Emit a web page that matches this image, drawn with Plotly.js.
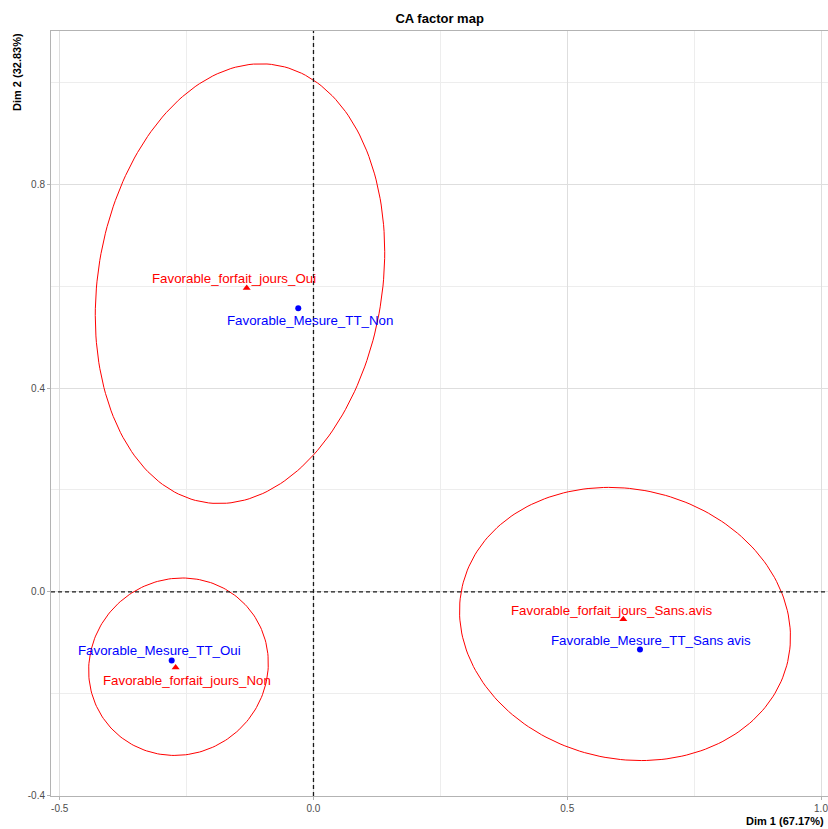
<!DOCTYPE html>
<html>
<head>
<meta charset="utf-8">
<script src="https://cdn.plot.ly/plotly-3.0.1.min.js"></script>
<style>html,body{margin:0;padding:0;background:#fff;}#chart{width:828px;height:829px;}</style>
</head>
<body>
<div id="chart"></div>
<script>
// Row points (blue) – Favorable_Mesure_TT
var rowNames = ["Favorable_Mesure_TT_Non", "Favorable_Mesure_TT_Oui", "Favorable_Mesure_TT_Sans avis"];
var rowDim1 = [-0.0300, -0.2794, 0.6433];
var rowDim2 = [0.5565, -0.1349, -0.1133];
var rowLabelX = [-0.0069, -0.3044, 0.6654];
var rowLabelY = [0.532, -0.116, -0.0951];

// Column points (red) – Favorable_forfait_jours
var colNames = ["Favorable_forfait_jours_Oui", "Favorable_forfait_jours_Non", "Favorable_forfait_jours_Sans.avis"];
var colDim1 = [-0.1316, -0.2716, 0.6105];
var colDim2 = [0.5965, -0.1486, -0.0539];
var colLabelX = [-0.1567, -0.2499, 0.5868];
var colLabelY = [0.6147, -0.1735, -0.0363];

// Confidence ellipses around column points (centre, semi-axes, rotation in degrees)
var ellCx = [-0.1448, -0.266, 0.6138];
var ellCy = [0.605, -0.147, -0.0631];
var ellRx = [0.280, 0.1795, 0.329];
var ellRy = [0.435, 0.1716, 0.2645];
var ellAngle = [-9.35, 34.4, -13.0];

var xTickVals = [-0.5, 0, 0.5, 1.0];
var xTickText = ["-0.5", "0.0", "0.5", "1.0"];
var yTickVals = [-0.4, 0, 0.4, 0.8];
var yTickText = ["-0.4", "0.0", "0.4", "0.8"];

var FONT = "Liberation Sans, Arial, sans-serif";
var traces = [];

for (var k = 0; k < ellCx.length; k++) {
  var ex = [], ey = [];
  var phi = ellAngle[k] * Math.PI / 180;
  for (var i = 0; i <= 200; i++) {
    var t = 2 * Math.PI * i / 200;
    var u = ellRx[k] * Math.cos(t), v = ellRy[k] * Math.sin(t);
    ex.push(ellCx[k] + u * Math.cos(phi) - v * Math.sin(phi));
    ey.push(ellCy[k] + u * Math.sin(phi) + v * Math.cos(phi));
  }
  traces.push({type: "scatter", mode: "lines", x: ex, y: ey,
    line: {color: "#FF0000", width: 1}, hoverinfo: "skip", showlegend: false});
}

traces.push({type: "scatter", mode: "markers", x: rowDim1, y: rowDim2, text: rowNames,
  marker: {color: "#0000FF", size: 6, symbol: "circle"}, showlegend: false});
traces.push({type: "scatter", mode: "markers", x: colDim1, y: colDim2, text: colNames,
  marker: {color: "#FF0000", size: 7, symbol: "triangle-up"}, showlegend: false});

var annotations = [];
for (var r = 0; r < rowNames.length; r++) {
  annotations.push({x: rowLabelX[r], y: rowLabelY[r], xref: "x", yref: "y", text: rowNames[r],
    showarrow: false, xanchor: "center", yanchor: "middle",
    font: {family: FONT, size: 13.3, color: "#0000FF"}});
}
for (var c = 0; c < colNames.length; c++) {
  annotations.push({x: colLabelX[c], y: colLabelY[c], xref: "x", yref: "y", text: colNames[c],
    showarrow: false, xanchor: "center", yanchor: "middle",
    font: {family: FONT, size: 13.3, color: "#FF0000"}});
}
annotations.push({x: 1, y: 0, xref: "paper", yref: "paper", xanchor: "right", yanchor: "top",
  yshift: -17, xshift: -2, text: "<b>Dim 1 (67.17%)</b>", showarrow: false,
  font: {family: FONT, size: 11, color: "#000000"}});
annotations.push({x: 0, y: 1, xref: "paper", yref: "paper", xanchor: "right", yanchor: "top",
  xshift: -26, text: "<b>Dim 2 (32.83%)</b>", showarrow: false, textangle: -90,
  font: {family: FONT, size: 11, color: "#000000"}});

var layout = {
  width: 828, height: 829,
  margin: {l: 51, r: 0, t: 31, b: 33, pad: 0},
  paper_bgcolor: "#FFFFFF", plot_bgcolor: "#FFFFFF",
  showlegend: false,
  title: {text: "<b>CA factor map</b>", x: 0.531, xanchor: "center", y: 0.978, yanchor: "middle",
    font: {family: FONT, size: 13, color: "#000000"}},
  xaxis: {range: [-0.5172, 1.0138], autorange: false, fixedrange: true,
    tickmode: "array", tickvals: xTickVals, ticktext: xTickText,
    ticklabeloverflow: "allow",
    showgrid: true, gridcolor: "#DEDEDE", gridwidth: 1,
    minor: {dtick: 0.25, tick0: 0, showgrid: true, gridcolor: "#EDEDED", gridwidth: 1, ticks: ""},
    zeroline: false, showline: true, linecolor: "#B3B3B3", linewidth: 1, mirror: true,
    ticks: "outside", ticklen: 3, tickcolor: "#B3B3B3", tickwidth: 1,
    tickfont: {family: FONT, size: 10, color: "#4D4D4D"}},
  yaxis: {range: [-0.4008, 1.101], autorange: false, fixedrange: true,
    tickmode: "array", tickvals: yTickVals, ticktext: yTickText,
    ticklabeloverflow: "allow",
    showgrid: true, gridcolor: "#DEDEDE", gridwidth: 1,
    minor: {dtick: 0.2, tick0: 0, showgrid: true, gridcolor: "#EDEDED", gridwidth: 1, ticks: ""},
    zeroline: false, showline: true, linecolor: "#B3B3B3", linewidth: 1, mirror: true,
    ticks: "outside", ticklen: 3, tickcolor: "#B3B3B3", tickwidth: 1,
    tickfont: {family: FONT, size: 10, color: "#4D4D4D"}},
  shapes: [
    {type: "line", xref: "x", yref: "paper", x0: 0, x1: 0, y0: 0, y1: 1,
     line: {color: "#1A1A1A", width: 1.3, dash: "4px,3px"}, layer: "above"},
    {type: "line", xref: "paper", yref: "y", x0: 0, x1: 1, y0: 0, y1: 0,
     line: {color: "#1A1A1A", width: 1.3, dash: "4px,3px"}, layer: "above"}
  ],
  annotations: annotations
};

Plotly.newPlot("chart", traces, layout, {displayModeBar: false, staticPlot: true});
</script>
</body>
</html>
